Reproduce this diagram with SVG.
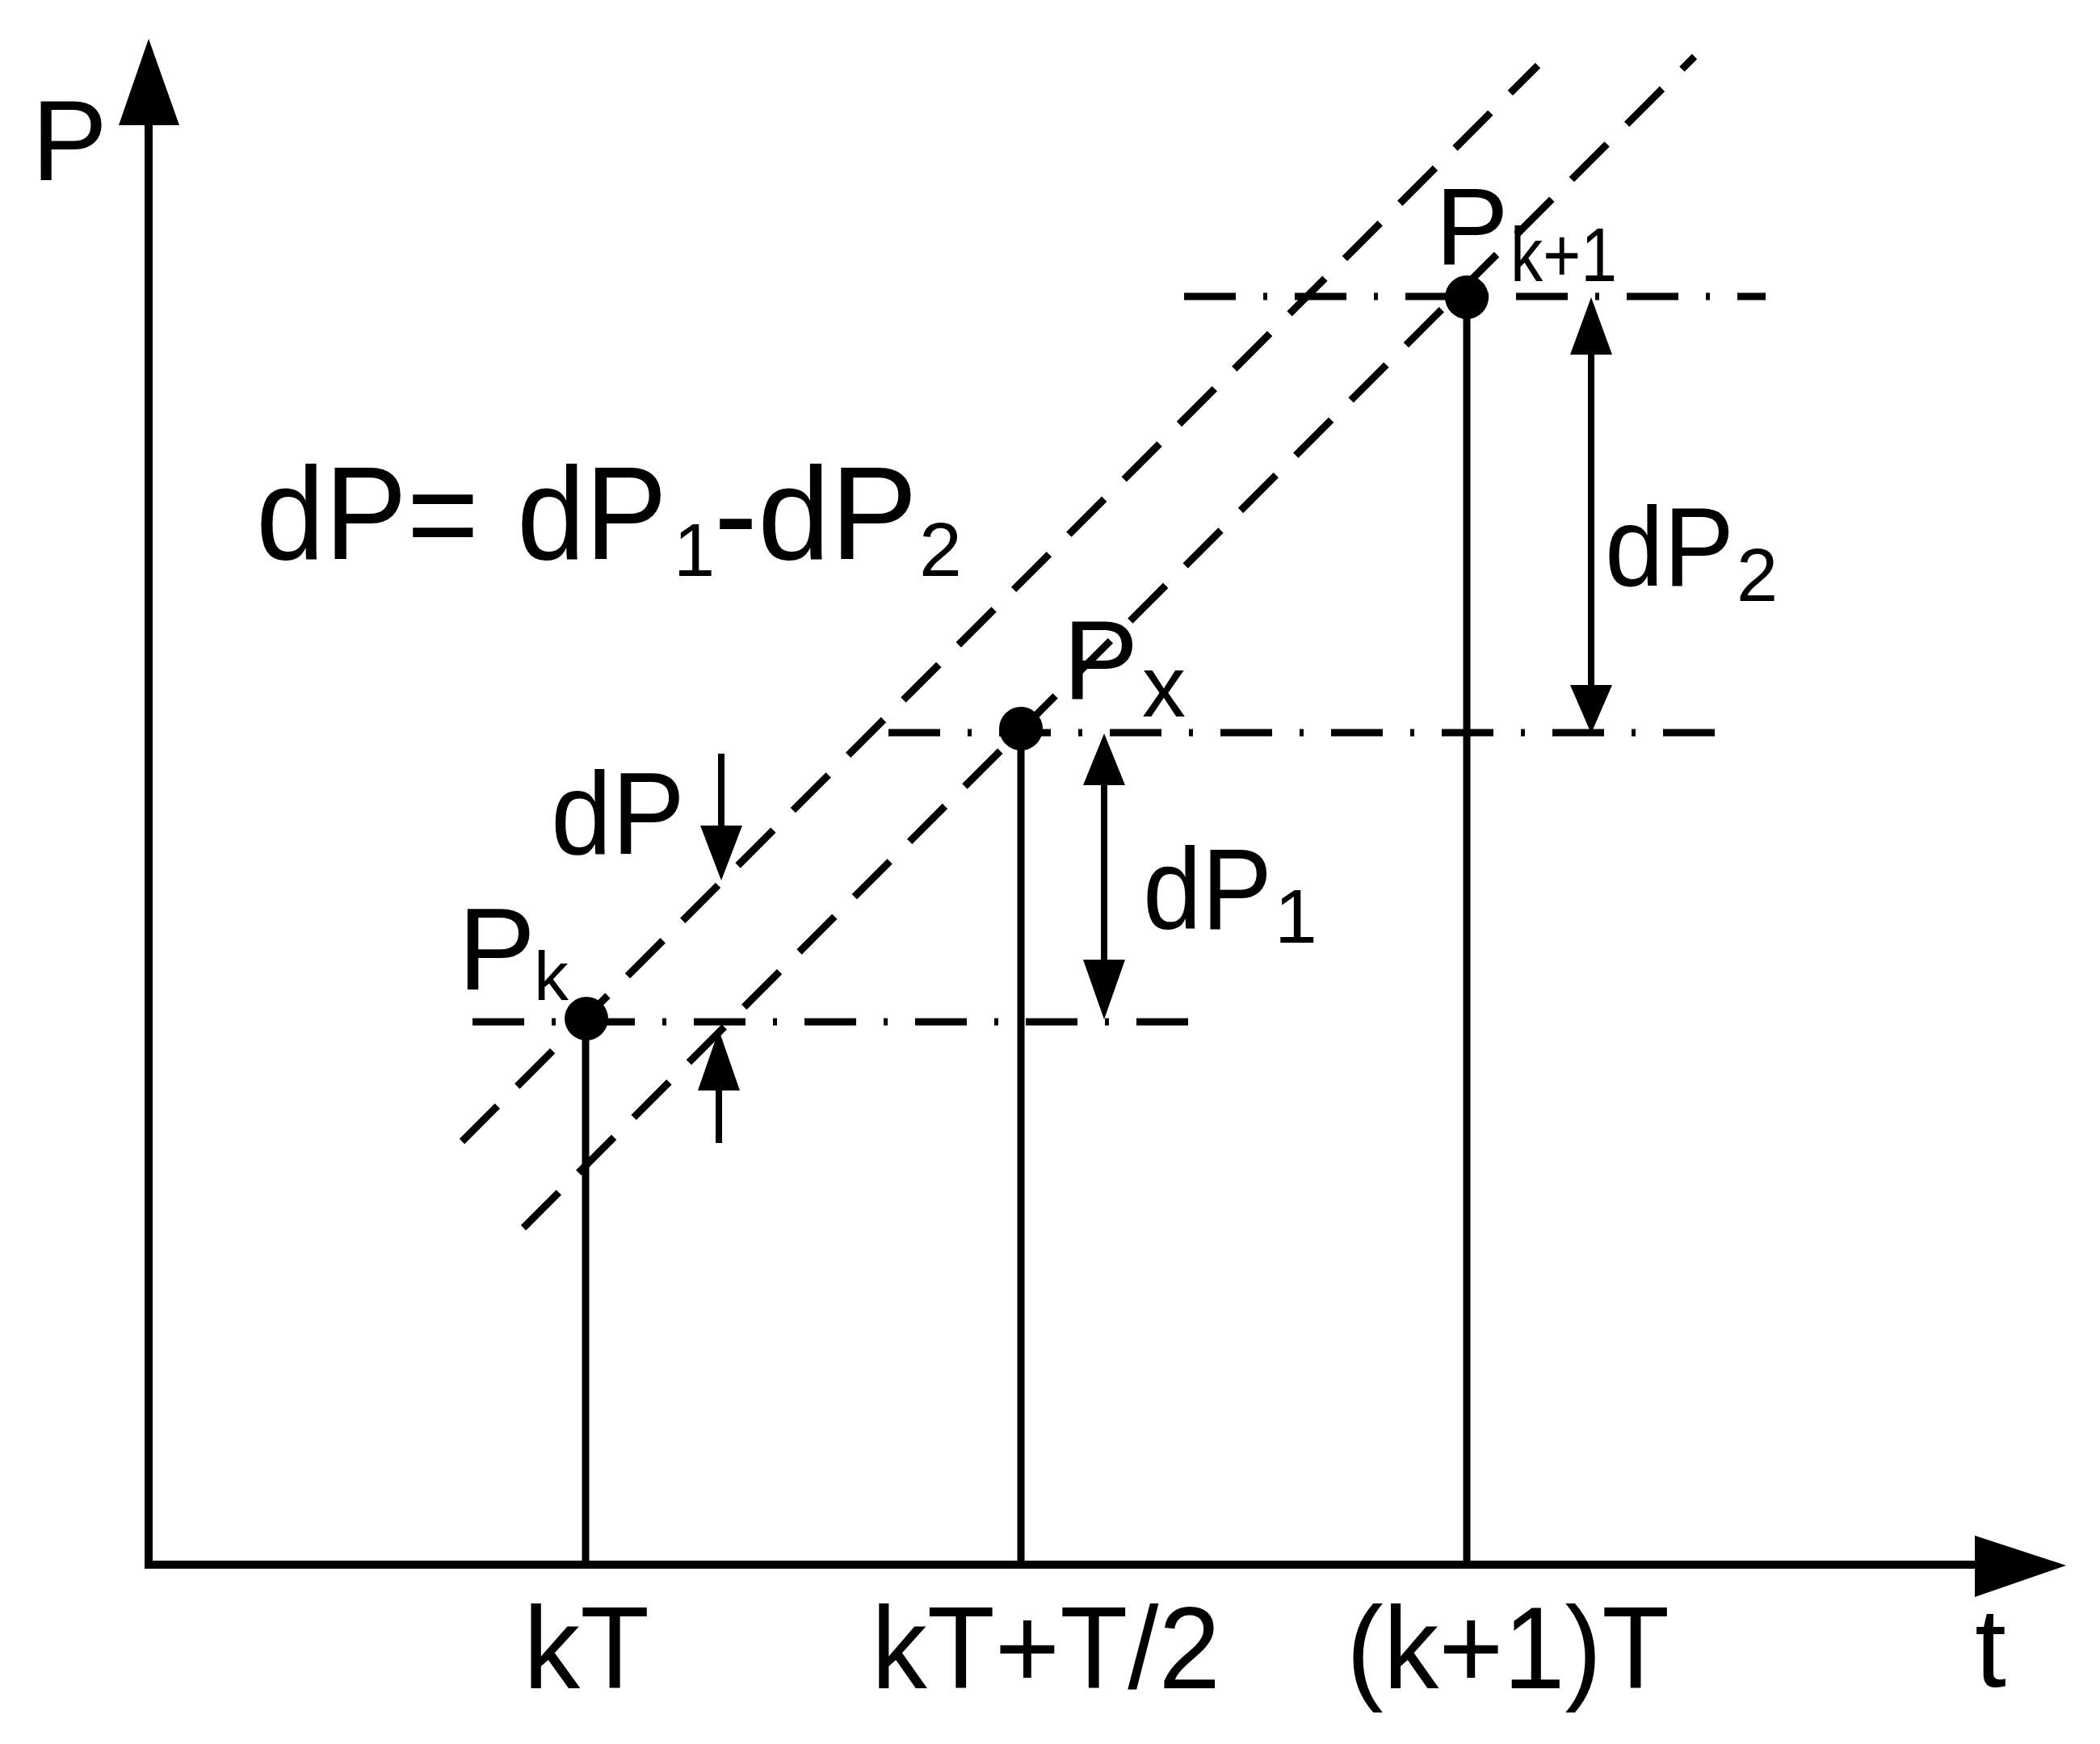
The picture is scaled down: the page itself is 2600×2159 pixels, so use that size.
<svg xmlns="http://www.w3.org/2000/svg" width="2600" height="2159" viewBox="0 0 2600 2159">
<style>
text { font-family: "Liberation Sans", Arial, sans-serif; fill: #000; }
.ax { stroke: #000; stroke-width: 10; fill: none; }
.vl { stroke: #000; stroke-width: 9; fill: none; }
.dd { stroke: #000; stroke-width: 9; fill: none; stroke-dasharray: 64 34 5 34; }
.dl { stroke: #000; stroke-width: 9; fill: none; stroke-dasharray: 62 34.6; }
.ar { stroke: #000; stroke-width: 8; fill: none; }
.hd { fill: #000; stroke: none; }
.dot { fill: #000; }
</style>
<rect width="2600" height="2159" fill="#fff"/>

<g id="axes">
  <line class="ax" x1="184" y1="1937" x2="184" y2="150"/>
  <polygon class="hd" points="184,48 147,155 222,155"/>
  <line class="ax" x1="179" y1="1937" x2="2450" y2="1937"/>
  <polygon class="hd" points="2558,1938 2445,1901 2445,1977"/>
  <text x="39" y="223" font-size="141">P</text>
  <text x="2445" y="2088" font-size="140">t</text>
  <text x="648" y="2090" font-size="144" textLength="156" lengthAdjust="spacingAndGlyphs">kT</text>
  <text x="1079" y="2090" font-size="144" textLength="432" lengthAdjust="spacingAndGlyphs">kT+T/2</text>
  <text x="1667" y="2090" font-size="144" textLength="400" lengthAdjust="spacingAndGlyphs">(k+1)T</text>
</g>

<g id="connectors">
  <line class="vl" x1="725" y1="1261" x2="725" y2="1937"/>
  <line class="vl" x1="1264" y1="902" x2="1264" y2="1937"/>
  <line class="vl" x1="1816" y1="368" x2="1816" y2="1937"/>
  <line class="dd" x1="585" y1="1265" x2="1472" y2="1265"/>
  <line class="dd" x1="1100" y1="907" x2="2124" y2="907"/>
  <line class="dd" x1="1466" y1="367" x2="2186" y2="367"/>
  <line class="dl" x1="572" y1="1413" x2="1904" y2="81"/>
  <line class="dl" x1="648" y1="1520" x2="2098" y2="70"/>
  <line class="ar" x1="893" y1="933" x2="893" y2="1030"/>
  <polygon class="hd" points="867,1022 919,1022 893,1090"/>
  <line class="ar" x1="890" y1="1415" x2="890" y2="1342"/>
  <polygon class="hd" points="864,1350 916,1350 890,1275"/>
  <line class="ar" x1="1367" y1="965" x2="1367" y2="1195"/>
  <polygon class="hd" points="1367,908 1341,972 1393,972"/>
  <polygon class="hd" points="1367,1262 1341,1188 1393,1188"/>
  <line class="ar" x1="1970" y1="432" x2="1970" y2="855"/>
  <polygon class="hd" points="1970,368 1944,439 1996,439"/>
  <polygon class="hd" points="1970,908 1944,848 1996,848"/>
</g>

<g id="node-Pk">
  <circle class="dot" cx="726" cy="1261" r="27"/>
  <text x="567" y="1225" font-size="144">P</text>
  <text x="661" y="1238" font-size="86">k</text>
</g>

<g id="node-Px">
  <circle class="dot" cx="1264" cy="902" r="27"/>
  <text x="1316" y="865" font-size="140">P</text>
  <text x="1414" y="887" font-size="108">x</text>
</g>

<g id="node-Pk1">
  <circle class="dot" cx="1816" cy="368" r="27"/>
  <text x="1777" y="327" font-size="136">P</text>
  <text x="1870" y="348" font-size="95" textLength="132" lengthAdjust="spacingAndGlyphs">k+1</text>
</g>

<g id="labels">
  <text x="317" y="692" font-size="163" textLength="276" lengthAdjust="spacingAndGlyphs">dP=</text>
  <text x="640" y="692" font-size="163" textLength="186" lengthAdjust="spacingAndGlyphs">dP</text>
  <text x="834" y="713" font-size="92">1</text>
  <text x="884" y="692" font-size="163" textLength="252" lengthAdjust="spacingAndGlyphs">-dP</text>
  <text x="1138" y="713" font-size="95">2</text>

  <text x="682" y="1057" font-size="145" textLength="166" lengthAdjust="spacingAndGlyphs">dP</text>

  <text x="1415" y="1150" font-size="142" textLength="160" lengthAdjust="spacingAndGlyphs">dP</text>
  <text x="1578" y="1167" font-size="95">1</text>

  <text x="1987" y="725" font-size="140" textLength="160" lengthAdjust="spacingAndGlyphs">dP</text>
  <text x="2150" y="744" font-size="92">2</text>
</g>
</svg>
